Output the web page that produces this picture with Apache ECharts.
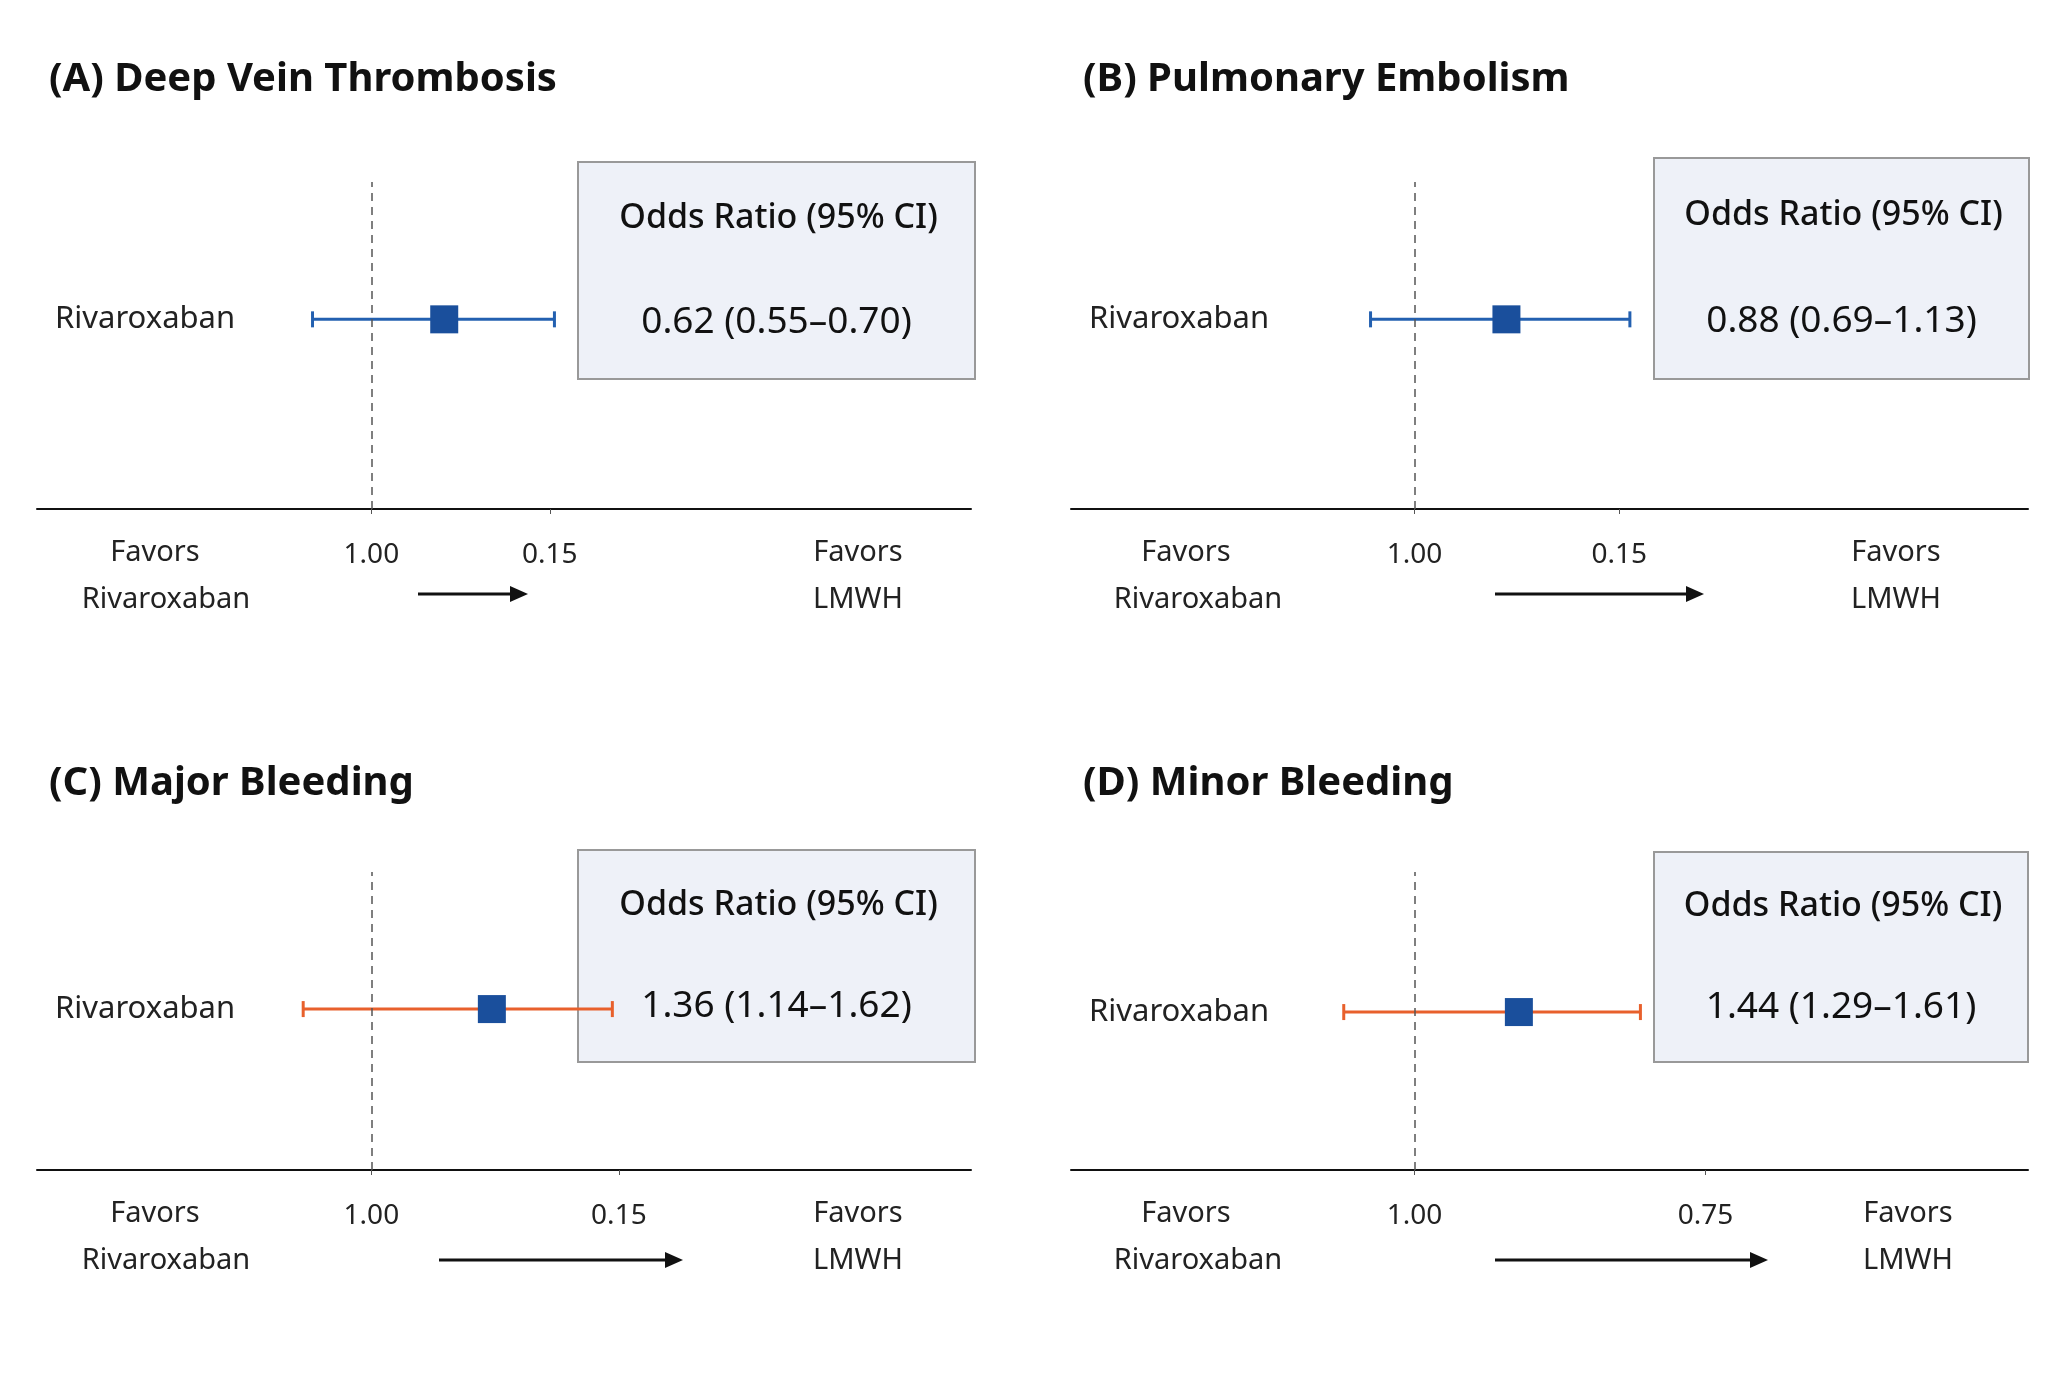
<!DOCTYPE html>
<html><head><meta charset="utf-8">
<script src="https://cdn.jsdelivr.net/npm/echarts@6/dist/echarts.min.js"></script>
<style>html,body{margin:0;padding:0;background:#fff}#c{width:2066px;height:1384px}</style>
</head><body><div id="c"></div>
<script>
// Panel data (x positions in axis units 0-100 across each panel's baseline)
const panelTitles = ['(A) Deep Vein Thrombosis','(B) Pulmonary Embolism','(C) Major Bleeding','(D) Minor Bleeding'];
const oddsText = ['0.62 (0.55\u20130.70)','0.88 (0.69\u20131.13)','1.36 (1.14\u20131.62)','1.44 (1.29\u20131.61)'];
const ciLow   = [29.5, 31.3, 28.5, 28.5];
const ciPoint = [43.6, 45.5, 48.7, 46.8];
const ciHigh  = [55.4, 58.4, 61.6, 59.5];
const rowY    = [0.58, 0.58, 0.54, 0.53];
const refLine = [35.8, 35.9, 35.8, 35.9];
const tickPos = [[35.8, 54.9],[35.9, 57.3],[35.8, 62.3],[35.9, 66.3]];
const tickLabels = [['1.00','0.15'],['1.00','0.15'],['1.00','0.15'],['1.00','0.75']];
const lineColors = ['#2360b0','#2360b0','#e8602c','#e8602c'];

const F = '"Noto Sans", "Open Sans", sans-serif';
const grids = [
  {left:37, top:182, width:934, height:327},
  {left:1071, top:182, width:957, height:327},
  {left:37, top:872, width:934, height:298},
  {left:1071, top:872, width:957, height:298}
];
const boxes = [[578,162,397,217],[1654,158,375,221],[578,850,397,212],[1654,852,374,210]];
const arrows = [[418,528,594],[1495,1704,594],[439,683,1260],[1495,1768,1260]];
const favL = [[155,166],[1186,1198],[155,166],[1186,1198]];
const favR = [858,1896,858,1908];

const option = {animation:false, grid:[], xAxis:[], yAxis:[], series:[], graphic:[]};
for (let i=0;i<4;i++){
  option.grid.push(grids[i]);
  const fmap = {}; tickPos[i].forEach((p,k)=>fmap[p]=tickLabels[i][k]);
  option.xAxis.push({type:'value', gridIndex:i, min:0, max:100,
    axisLine:{show:true, onZero:false, lineStyle:{color:'#111', width:2}},
    axisTick:{show:true, customValues:tickPos[i], length:5, inside:false, lineStyle:{color:'#555'}},
    axisLabel:{customValues:tickPos[i], formatter:v=>fmap[v]||'', margin:32, fontSize:28, color:'#222', fontFamily:F},
    splitLine:{show:false}});
  option.yAxis.push({type:'value', gridIndex:i, min:0, max:1, show:false});
  option.series.push({type:'custom', xAxisIndex:i, yAxisIndex:i, clip:false,
    data:[[ciLow[i], ciPoint[i], ciHigh[i], rowY[i]]],
    renderItem:(function(col){return function(params, api){
      const l = api.coord([api.value(0), api.value(3)]);
      const p = api.coord([api.value(1), api.value(3)]);
      const h = api.coord([api.value(2), api.value(3)]);
      const st = {stroke:col, lineWidth:3};
      return {type:'group', children:[
        {type:'line', shape:{x1:l[0],y1:l[1],x2:h[0],y2:h[1]}, style:st},
        {type:'line', shape:{x1:l[0],y1:l[1]-8,x2:l[0],y2:l[1]+8}, style:st},
        {type:'line', shape:{x1:h[0],y1:h[1]-8,x2:h[0],y2:h[1]+8}, style:st},
        {type:'rect', shape:{x:p[0]-14,y:p[1]-14,width:28,height:28}, style:{fill:'#1a4f9c'}}
      ]};
    };})(lineColors[i]),
    markLine:{silent:true, symbol:'none', label:{show:false},
      lineStyle:{type:[8,6], color:'#555', width:1.5},
      data:[[{coord:[refLine[i],0]},{coord:[refLine[i],1]}]]}
  });
  const g = grids[i];
  option.graphic.push({type:'text', left:g.left+12, top:(i<2?76:780)-16,
    style:{text:panelTitles[i], font:'bold 40px '+F, fill:'#111'}});
  const rowPix = g.top + g.height*(1-rowY[i]);
  option.graphic.push({type:'text', x:g.left+18, y:rowPix,
    style:{text:'Rivaroxaban', font:'31px '+F, fill:'#222', verticalAlign:'middle'}});
  const b = boxes[i];
  option.graphic.push({type:'rect', shape:{x:b[0],y:b[1],width:b[2],height:b[3]},
    style:{fill:'#eef1f8', stroke:'#999', lineWidth:2}, z:1});
  option.graphic.push({type:'text', x:b[0]+b[2]/2+2, y:b[1]+b[3]*0.26,
    style:{text:'Odds Ratio (95% CI)', font:'500 34px '+F, fill:'#111', align:'center', verticalAlign:'middle'}, z:2});
  option.graphic.push({type:'text', x:b[0]+b[2]/2, y:b[1]+b[3]*0.74,
    style:{text:oddsText[i], font:'37px '+F, fill:'#111', align:'center', verticalAlign:'middle'}, z:2});
  const yb = g.top+g.height;
  option.graphic.push({type:'text', x:favL[i][0], y:yb+44, style:{text:'Favors', font:'29px '+F, fill:'#222', align:'center', verticalAlign:'middle'}});
  option.graphic.push({type:'text', x:favL[i][1], y:yb+91, style:{text:'Rivaroxaban', font:'29px '+F, fill:'#222', align:'center', verticalAlign:'middle'}});
  option.graphic.push({type:'text', x:favR[i], y:yb+44, style:{text:'Favors', font:'29px '+F, fill:'#222', align:'center', verticalAlign:'middle'}});
  option.graphic.push({type:'text', x:favR[i], y:yb+91, style:{text:'LMWH', font:'29px '+F, fill:'#222', align:'center', verticalAlign:'middle'}});
  const a = arrows[i];
  option.graphic.push({type:'line', shape:{x1:a[0],y1:a[2],x2:a[1]-14,y2:a[2]}, style:{stroke:'#111', lineWidth:3}});
  option.graphic.push({type:'polygon', shape:{points:[[a[1],a[2]],[a[1]-18,a[2]-8],[a[1]-18,a[2]+8]]}, style:{fill:'#111'}});
}
echarts.init(document.getElementById('c')).setOption(option);
</script></body></html>
